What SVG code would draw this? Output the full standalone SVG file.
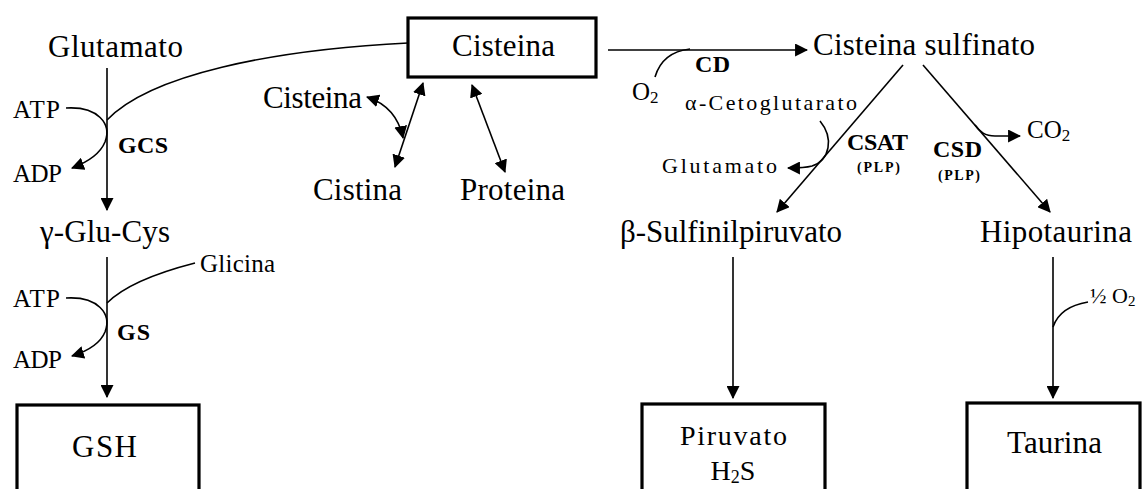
<svg xmlns="http://www.w3.org/2000/svg" width="1143" height="489" viewBox="0 0 1143 489">
<defs>
<marker id="ah" viewBox="0 0 12 12" refX="11" refY="6" markerWidth="13" markerHeight="13" markerUnits="userSpaceOnUse" orient="auto-start-reverse">
<path d="M0,0 L12,6 L0,12 z" fill="#000"/>
</marker>
<style>
text{font-family:'Liberation Serif','DejaVu Serif',serif;fill:#000}
.m{font-size:31px}
.s{font-size:25px}
.b{font-size:24px;font-weight:bold}
.pl{font-size:14px;font-weight:bold}
.c{fill:none;stroke:#000;stroke-width:1.6}
.a{marker-end:url(#ah)}
.d{marker-start:url(#ah);marker-end:url(#ah)}
.box{fill:#fff;stroke:#000;stroke-width:3.2}
</style>
</defs>
<rect width="1143" height="489" fill="#fff"/>
<g id="connectors">
<path class="c a" d="M107,68 L107,210"/>
<path class="c a" d="M66,108 C98,106 112,124 105,142 C100,154 88,162 72,168"/>
<path class="c" d="M107,120 C150,75 270,50 408,43"/>
<path class="c a" d="M107,257 L107,397"/>
<path class="c a" d="M66,298 C98,296 112,314 105,332 C100,344 88,351 72,356"/>
<path class="c" d="M107,303 C125,285 160,272 195,263"/>
<path class="c a" d="M608,50 L807,50"/>
<path class="c" d="M655,77 C660,60 672,51 690,49"/>
<path class="c d" d="M423,83 L395,167"/>
<path class="c d" d="M367,97 C388,104 399,118 403,138"/>
<path class="c d" d="M472,85 L505,172"/>
<path class="c a" d="M903,65 L777,212"/>
<path class="c a" d="M923,65 L1050,212"/>
<path class="c a" d="M820,121 C834,138 830,160 812,166 C805,168 797,168 788,168"/>
<path class="c a" d="M975,125 C980,132 985,136 995,136 L1020,136"/>
<path class="c a" d="M733,257 L733,398"/>
<path class="c a" d="M1053,257 L1053,398"/>
<path class="c" d="M1053,327 C1058,312 1070,305 1088,302"/>
</g>
<g font-family="Liberation Serif, serif">
<g id="glutamato"><text class="m" x="48" y="57" textLength="135">Glutamato</text></g>
<g id="atp1"><text class="s" x="13" y="118" textLength="47">ATP</text></g>
<g id="adp1"><text class="s" x="13" y="182" textLength="49">ADP</text></g>
<g id="gcs"><text class="b" x="118" y="153" textLength="50">GCS</text></g>
<g id="gluCys"><text class="m" x="40" y="242" textLength="130">γ-Glu-Cys</text></g>
<g id="glicina"><text class="s" x="200" y="272" textLength="75">Glicina</text></g>
<g id="atp2"><text class="s" x="13" y="307" textLength="47">ATP</text></g>
<g id="adp2"><text class="s" x="13" y="368" textLength="49">ADP</text></g>
<g id="gs"><text class="b" x="117" y="340" textLength="33">GS</text></g>
<g id="gsh"><rect class="box" x="17" y="405" width="182" height="100"/><text class="m" x="72" y="457" textLength="65">GSH</text></g>
<g id="cisteinaBox"><rect class="box" x="408" y="18" width="188" height="59"/><text class="m" x="452" y="56" textLength="103">Cisteina</text></g>
<g id="cisteinaL"><text class="m" x="263" y="108" textLength="99">Cisteina</text></g>
<g id="cistina"><text class="m" x="313" y="200" textLength="89">Cistina</text></g>
<g id="proteina"><text class="m" x="460" y="200" textLength="105">Proteina</text></g>
<g id="o2"><text class="s" x="632" y="100">O<tspan font-size="17" dy="3">2</tspan></text></g>
<g id="cd"><text class="b" x="695" y="72" textLength="35">CD</text></g>
<g id="aceto"><text font-size="22" x="685" y="110" textLength="172">α-Cetoglutarato</text></g>
<g id="glutamato2"><text font-size="22" x="662" y="173" textLength="115">Glutamato</text></g>
<g id="sulfinato"><text class="m" x="813" y="55" textLength="222">Cisteina sulfinato</text></g>
<g id="csat"><text class="b" x="847" y="150" textLength="61">CSAT</text><text class="pl" x="857" y="172" textLength="43">(PLP)</text></g>
<g id="csd"><text class="b" x="933" y="157" textLength="49">CSD</text><text class="pl" x="938" y="180" textLength="42">(PLP)</text></g>
<g id="co2"><text class="s" x="1027" y="138">CO<tspan font-size="17" dy="3">2</tspan></text></g>
<g id="sulfinil"><text class="m" x="620" y="242" textLength="222">β-Sulfinilpiruvato</text></g>
<g id="hipotaurina"><text class="m" x="980" y="242" textLength="152">Hipotaurina</text></g>
<g id="halfO2"><text font-size="22" x="1090" y="303">½ O<tspan font-size="15" dy="3">2</tspan></text></g>
<g id="piruvato"><rect class="box" x="642" y="404" width="183" height="100"/><text font-size="28" x="680" y="445" textLength="107">Piruvato</text><text font-size="28" x="733" y="480" text-anchor="middle">H<tspan font-size="18" dy="3">2</tspan><tspan dy="-3">S</tspan></text></g>
<g id="taurina"><rect class="box" x="967" y="403" width="173" height="100"/><text class="m" x="1007" y="453" textLength="95">Taurina</text></g>
</g>
</svg>
